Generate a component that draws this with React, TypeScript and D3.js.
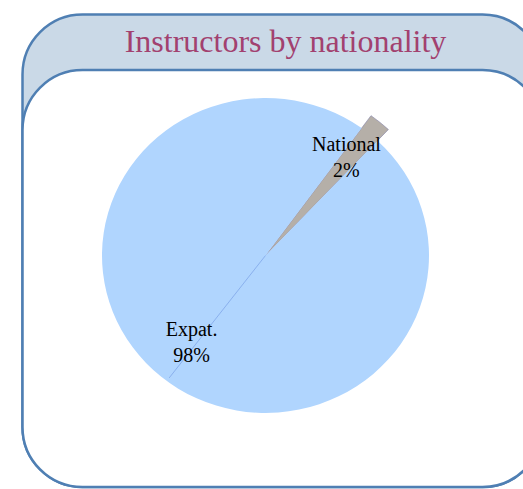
import React from "react";
import * as d3 from "d3";

const title = "Instructors by nationality";
const categories = ["National", "Expat."];
const values = [2, 98];
const percentLabels = ["2%", "98%"];
const sliceColors = ["#B5AFA8", "#B0D5FE"];

const W = 523;
const H = 489;

export default function App() {
  const cx = 265.5;
  const cy = 255.5;
  const R = 163.5;
  const yScale = 0.963;
  const startDeg = 36;
  const start = (startDeg * Math.PI) / 180;

  const pie = d3
    .pie<number>()
    .sort(null)
    .value((d) => d)
    .startAngle(start)
    .endAngle(start + 2 * Math.PI);
  const arcs = pie(values);

  const arcGen = d3.arc<d3.PieArcDatum<number>>().innerRadius(0).outerRadius(R);
  const bigArc = d3.arc<d3.PieArcDatum<number>>().innerRadius(0).outerRadius(R + 16);
  const labelRadii = [127, 116];
  const labelShift = [-10, -6];

  const frameX = 22.5;
  const frameW = 520;
  const outerY = 14.5;
  const innerY = 70;
  const bottom = 487;
  const rr = 60;

  const lineAngle = start + Math.PI + 0.02;

  return (
    <svg
      width={W}
      height={H}
      style={{ position: "absolute", left: 0, top: 0 }}
      viewBox={`0 0 ${W} ${H}`}
    >
      <rect x={0} y={0} width={W} height={H} fill="#fff" />
      <rect
        x={frameX}
        y={outerY}
        width={frameW}
        height={bottom - outerY}
        rx={rr}
        ry={rr}
        fill="#CAD9E7"
        stroke="#4F7FB3"
        strokeWidth={2.5}
      />
      <rect
        x={frameX}
        y={innerY}
        width={frameW}
        height={bottom - innerY}
        rx={rr}
        ry={rr}
        fill="#fff"
        stroke="#4F7FB3"
        strokeWidth={2.5}
      />
      <text
        x={285.5}
        y={52}
        textAnchor="middle"
        fontFamily="'Liberation Serif', 'Times New Roman', serif"
        fontSize={32}
        fill="#A2416F"
      >
        {title}
      </text>
      <g transform={`translate(${cx},${cy}) scale(1,${yScale})`}>
        {arcs.map((a, i) => {
          const isSmall = i === 0;
          return (
            <path
              key={categories[i]}
              d={(isSmall ? bigArc(a) : arcGen(a)) || ""}
              fill={sliceColors[i]}
              stroke={isSmall ? "#6E6A98" : "none"}
              strokeWidth={isSmall ? 0.5 : 0}
            />
          );
        })}
        <line
          x1={0}
          y1={0}
          x2={Math.sin(lineAngle) * (R - 4)}
          y2={-Math.cos(lineAngle) * (R - 4)}
          stroke="#7FA6E8"
          strokeWidth={0.8}
        />
      </g>
      <g transform={`translate(${cx},${cy})`}>
        {arcs.map((a, i) => {
          const mid = (a.startAngle + a.endAngle) / 2;
          const r = labelRadii[i];
          const x = Math.sin(mid) * r;
          const y = -Math.cos(mid) * r * yScale;
          return (
            <text
              key={"l" + i}
              x={x}
              y={y}
              textAnchor="middle"
              fontFamily="'Liberation Serif', 'Times New Roman', serif"
              fontSize={20}
              fill="#000"
            >
              <tspan x={x} dy={labelShift[i]}>
                {categories[i]}
              </tspan>
              <tspan x={x} dy={26}>
                {percentLabels[i]}
              </tspan>
            </text>
          );
        })}
      </g>
    </svg>
  );
}
